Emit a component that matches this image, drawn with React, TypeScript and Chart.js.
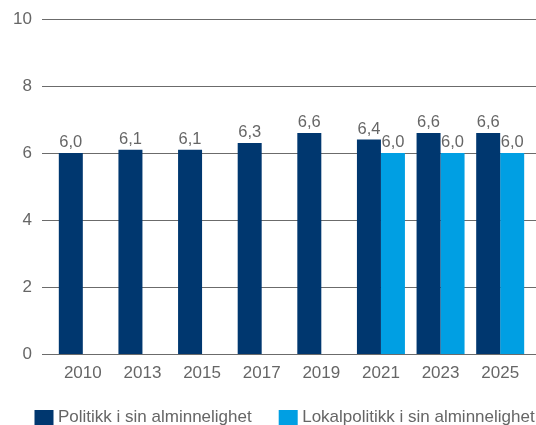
import React, { useEffect, useRef } from "react";
import { Chart, registerables } from "chart.js";

Chart.register(...registerables);

const years = ["2010", "2013", "2015", "2017", "2019", "2021", "2023", "2025"];
const politikk = [6.0, 6.1, 6.1, 6.3, 6.6, 6.4, 6.6, 6.6];
const lokalpolitikk = [null, null, null, null, null, 6.0, 6.0, 6.0];
const seriesNames = ["Politikk i sin alminnelighet", "Lokalpolitikk i sin alminnelighet"];
const yTicks = [0, 2, 4, 6, 8, 10];

const DARK = "#00376F";
const LIGHT = "#009FE3";
const TEXT = "#666666";
const FONT = "'Liberation Sans', Arial, Helvetica, sans-serif";
const FS = 17;
const LFS = 16.5;

const gridPlugin = {
  id: "fullGrid",
  beforeDatasetsDraw(chart: any) {
    const { ctx } = chart;
    const y = chart.scales.y;
    ctx.save();
    ctx.strokeStyle = "#6b6b6b";
    ctx.lineWidth = 1;
    for (const t of yTicks) {
      const py = Math.round(y.getPixelForValue(t)) + 0.5;
      ctx.beginPath();
      ctx.moveTo(42, py);
      ctx.lineTo(chart.width, py);
      ctx.stroke();
    }
    ctx.restore();
  },
};

const labelPlugin = {
  id: "valueLabels",
  afterDatasetsDraw(chart: any) {
    const { ctx } = chart;
    ctx.save();
    ctx.font = `${LFS}px ${FONT}`;
    ctx.fillStyle = TEXT;
    ctx.textAlign = "center";
    ctx.textBaseline = "alphabetic";
    chart.data.datasets.forEach((ds: any, di: number) => {
      const meta = chart.getDatasetMeta(di);
      meta.data.forEach((bar: any, i: number) => {
        const v = ds.data[i];
        if (v === null || v === undefined) return;
        const txt = v.toFixed(1).replace(".", ",");
        ctx.fillText(txt, bar.x, bar.y - 6);
      });
    });
    ctx.restore();
  },
};

const legendPlugin = {
  id: "customLegend",
  afterDraw(chart: any) {
    const { ctx } = chart;
    ctx.save();
    ctx.font = `${FS}px ${FONT}`;
    ctx.textBaseline = "alphabetic";
    ctx.textAlign = "left";
    let x = 34.5;
    const boxTop = 410;
    const box = 19;
    chart.data.datasets.forEach((ds: any) => {
      ctx.fillStyle = ds.backgroundColor;
      ctx.fillRect(x, boxTop, box, box);
      const tx = x + box + 4.5;
      ctx.fillStyle = TEXT;
      ctx.fillText(ds.label, tx, 422);
      x = tx + ctx.measureText(ds.label).width + 27;
    });
    ctx.restore();
  },
};

export default function App() {
  const ref = useRef<HTMLCanvasElement>(null);
  useEffect(() => {
    document.body.style.margin = "0";
    document.body.style.overflow = "hidden";
    document.documentElement.style.overflow = "hidden";
    const chart = new Chart(ref.current!, {
      type: "bar",
      data: {
        labels: years,
        datasets: [
          { label: seriesNames[0], data: politikk, backgroundColor: DARK },
          { label: seriesNames[1], data: lokalpolitikk as any, backgroundColor: LIGHT },
        ],
      },
      options: {
        responsive: false,
        animation: false,
        layout: { padding: { top: 19, right: 6, left: 0, bottom: 0 } },
        datasets: { bar: { categoryPercentage: 0.805, barPercentage: 1 } },
        scales: {
          x: {
            grid: { display: false, drawTicks: false },
            border: { display: false },
            ticks: { color: TEXT, font: { size: FS, family: FONT }, padding: 9, maxRotation: 0 },
            afterFit: (s: any) => { s.height = 71; },
          },
          y: {
            min: 0,
            max: 10,
            grid: { display: false, drawTicks: true, tickLength: 21 },
            border: { display: false },
            ticks: { stepSize: 2, color: TEXT, font: { size: FS, family: FONT }, padding: 0 },
            afterFit: (s: any) => { s.width = 53; },
          },
        },
        plugins: {
          legend: { display: false },
          tooltip: { enabled: false },
        },
      },
      plugins: [gridPlugin, labelPlugin, legendPlugin],
    });
    return () => chart.destroy();
  }, []);
  return (
    <div style={{ width: 536, height: 425 }}>
      <canvas ref={ref} width={536} height={425} style={{ display: "block" }} />
    </div>
  );
}
